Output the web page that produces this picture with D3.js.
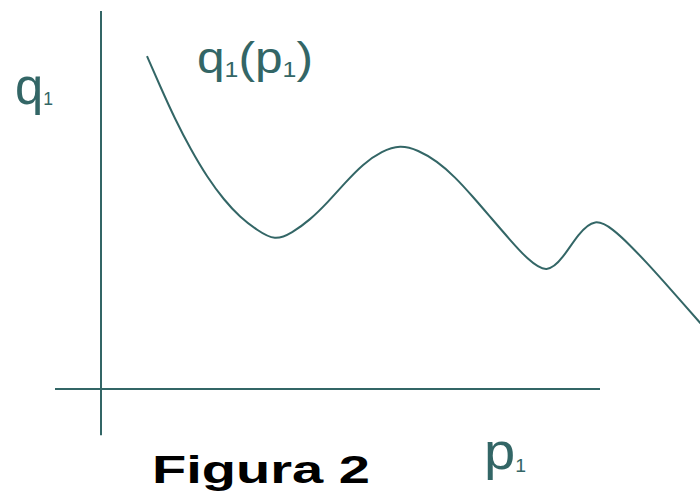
<!DOCTYPE html>
<html>
<head>
<meta charset="utf-8">
<script src="https://cdn.jsdelivr.net/npm/d3@7"></script>
<style>
  html, body { margin: 0; padding: 0; background: #ffffff; }
  svg { display: block; }
</style>
</head>
<body>
<div id="chart"></div>
<script>
// ---- data ----
const pValues = [9.2, 11.8, 14.8, 18.0, 21.2, 24.6, 27.8, 31.2, 34.8, 38.2, 41.8, 45.4, 48.8, 52.4, 56.2, 59.8, 63.4, 67.2, 70.8, 74.4, 78.0, 81.8, 85.4, 89.2, 92.4, 95.4, 98.8, 102.4, 105.8, 109.2, 112.6, 116.0, 120.2];
const qValues = [95.1, 86.6, 77.1, 68.3, 60.6, 54.0, 49.1, 45.4, 42.3, 44.6, 48.3, 53.4, 58.9, 64.3, 68.0, 69.7, 68.3, 65.1, 60.6, 54.9, 48.9, 42.6, 36.9, 32.9, 37.4, 44.3, 48.9, 45.7, 41.1, 36.0, 30.6, 25.1, 18.3];
const axisLabels = { y: "q", x: "p", sub: "1" };
const curveLabel = ["q", "1", "(p", "1", ")"];
const title = "Figura 2";

const W = 700, H = 501;
const teal = "#336666";
const font = "Liberation Sans, Arial, sans-serif";

const svg = d3.select("#chart").append("svg")
  .attr("width", W).attr("height", H);

const x = d3.scaleLinear().domain([0, 100]).range([101, 601]);
const y = d3.scaleLinear().domain([0, 100]).range([389, 39]);

// axes (plain lines, no ticks)
svg.append("line")
  .attr("x1", x(-9.2)).attr("x2", x(99.8))
  .attr("y1", y(0)).attr("y2", y(0))
  .attr("stroke", teal).attr("stroke-width", 2);
svg.append("line")
  .attr("x1", x(0)).attr("x2", x(0))
  .attr("y1", y(108)).attr("y2", y(-13.2))
  .attr("stroke", teal).attr("stroke-width", 2);

// curve
const pts = pValues.map((p, i) => [p, qValues[i]]);
const line = d3.line()
  .x(d => x(d[0])).y(d => y(d[1]))
  .curve(d3.curveBasis);
svg.append("path")
  .datum(pts)
  .attr("d", line)
  .attr("fill", "none")
  .attr("stroke", teal)
  .attr("stroke-width", 2);

// y axis label q1
const ql = svg.append("text")
  .attr("x", 15).attr("y", 104)
  .attr("font-family", font)
  .attr("font-size", 52)
  .attr("textLength", 38)
  .attr("lengthAdjust", "spacingAndGlyphs")
  .attr("fill", teal);
ql.append("tspan").text(axisLabels.y);
ql.append("tspan").attr("font-size", 18).attr("dy", 1).text(axisLabels.sub);

// curve label q1(p1)
const cl = svg.append("text")
  .attr("x", 197).attr("y", 73)
  .attr("font-family", font)
  .attr("font-size", 44)
  .attr("textLength", 116)
  .attr("lengthAdjust", "spacingAndGlyphs")
  .attr("fill", teal);
cl.append("tspan").text(curveLabel[0]);
cl.append("tspan").attr("font-size", 22).attr("dy", 4).text(curveLabel[1]);
cl.append("tspan").attr("dy", -4).text(curveLabel[2]);
cl.append("tspan").attr("font-size", 22).attr("dy", 4).text(curveLabel[3]);
cl.append("tspan").attr("dy", -4).text(curveLabel[4]);

// x axis label p1
const pl = svg.append("text")
  .attr("x", 484).attr("y", 469)
  .attr("font-family", font)
  .attr("font-size", 52)
  .attr("textLength", 42)
  .attr("lengthAdjust", "spacingAndGlyphs")
  .attr("fill", teal);
pl.append("tspan").text(axisLabels.x);
pl.append("tspan").attr("font-size", 18).attr("dy", 3).text(axisLabels.sub);

// title
svg.append("text")
  .attr("x", 152).attr("y", 483)
  .attr("font-family", font)
  .attr("font-weight", "bold")
  .attr("font-size", 39)
  .attr("textLength", 218)
  .attr("lengthAdjust", "spacingAndGlyphs")
  .attr("fill", "#000000")
  .text(title);
</script>
</body>
</html>
